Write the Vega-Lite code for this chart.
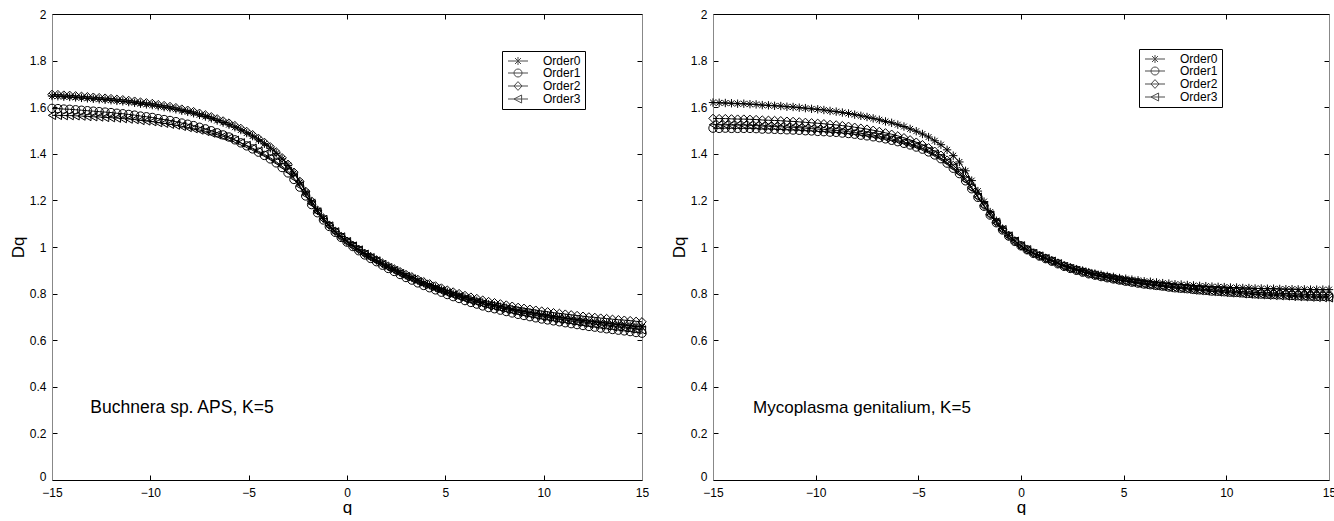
{
"$schema": "https://vega.github.io/schema/vega-lite/v6.json",
"padding": {"left": 9, "top": 8, "right": 0, "bottom": 0},
"config": {"font": "Liberation Sans", "view": {"stroke": null},
 "axis": {"labelFont": "Liberation Sans", "labelFontSize": 12, "labelColor": "black", "titleFont": "Liberation Sans", "titleFontSize": 17, "titleFontWeight": "normal", "titleColor": "black", "tickColor": "black", "grid": false, "domainColor": "black", "labelFlush": false},
 "legend": {"labelFont": "Liberation Sans", "labelFontSize": 12, "labelColor": "black", "strokeColor": "black", "fillColor": "white", "padding": 4, "rowPadding": 0, "symbolStrokeWidth": 1, "symbolStrokeColor": "black", "labelOffset": 19, "symbolSize": 64, "symbolOffset": 6}},
"datasets": {
"A": [
{"s":0,"q":-15,"d":1.648},{"s":0,"q":-14.7,"d":1.647},{"s":0,"q":-14.4,"d":1.645},{"s":0,"q":-14.1,"d":1.644},{"s":0,"q":-13.8,"d":1.642},{"s":0,"q":-13.5,"d":1.640},{"s":0,"q":-13.2,"d":1.638},{"s":0,"q":-12.9,"d":1.636},{"s":0,"q":-12.6,"d":1.634},{"s":0,"q":-12.3,"d":1.632},{"s":0,"q":-12,"d":1.630},{"s":0,"q":-11.7,"d":1.627},{"s":0,"q":-11.4,"d":1.625},{"s":0,"q":-11.1,"d":1.622},{"s":0,"q":-10.8,"d":1.619},{"s":0,"q":-10.5,"d":1.615},{"s":0,"q":-10.2,"d":1.612},{"s":0,"q":-9.9,"d":1.609},{"s":0,"q":-9.6,"d":1.604},{"s":0,"q":-9.3,"d":1.600},{"s":0,"q":-9,"d":1.596},{"s":0,"q":-8.7,"d":1.591},{"s":0,"q":-8.4,"d":1.585},{"s":0,"q":-8.1,"d":1.580},{"s":0,"q":-7.8,"d":1.574},{"s":0,"q":-7.5,"d":1.567},{"s":0,"q":-7.2,"d":1.560},{"s":0,"q":-6.9,"d":1.552},{"s":0,"q":-6.6,"d":1.543},{"s":0,"q":-6.3,"d":1.534},{"s":0,"q":-6,"d":1.525},{"s":0,"q":-5.7,"d":1.514},{"s":0,"q":-5.4,"d":1.502},{"s":0,"q":-5.1,"d":1.489},{"s":0,"q":-4.8,"d":1.476},{"s":0,"q":-4.5,"d":1.460},{"s":0,"q":-4.2,"d":1.443},{"s":0,"q":-3.9,"d":1.424},{"s":0,"q":-3.6,"d":1.402},{"s":0,"q":-3.3,"d":1.378},{"s":0,"q":-3,"d":1.350},{"s":0,"q":-2.7,"d":1.317},{"s":0,"q":-2.4,"d":1.278},{"s":0,"q":-2.1,"d":1.236},{"s":0,"q":-1.8,"d":1.194},{"s":0,"q":-1.5,"d":1.156},{"s":0,"q":-1.2,"d":1.122},{"s":0,"q":-0.9,"d":1.093},{"s":0,"q":-0.6,"d":1.067},{"s":0,"q":-0.3,"d":1.045},{"s":0,"q":0,"d":1.025},{"s":0,"q":0.3,"d":1.007},{"s":0,"q":0.6,"d":0.989},{"s":0,"q":0.9,"d":0.972},{"s":0,"q":1.2,"d":0.957},{"s":0,"q":1.5,"d":0.943},{"s":0,"q":1.8,"d":0.928},{"s":0,"q":2.1,"d":0.915},{"s":0,"q":2.4,"d":0.902},{"s":0,"q":2.7,"d":0.890},{"s":0,"q":3,"d":0.878},{"s":0,"q":3.3,"d":0.867},{"s":0,"q":3.6,"d":0.856},{"s":0,"q":3.9,"d":0.845},{"s":0,"q":4.2,"d":0.836},{"s":0,"q":4.5,"d":0.826},{"s":0,"q":4.8,"d":0.817},{"s":0,"q":5.1,"d":0.807},{"s":0,"q":5.4,"d":0.799},{"s":0,"q":5.7,"d":0.791},{"s":0,"q":6,"d":0.783},{"s":0,"q":6.3,"d":0.776},{"s":0,"q":6.6,"d":0.769},{"s":0,"q":6.9,"d":0.762},{"s":0,"q":7.2,"d":0.755},{"s":0,"q":7.5,"d":0.750},{"s":0,"q":7.8,"d":0.744},{"s":0,"q":8.1,"d":0.739},{"s":0,"q":8.4,"d":0.733},{"s":0,"q":8.7,"d":0.728},{"s":0,"q":9,"d":0.724},{"s":0,"q":9.3,"d":0.719},{"s":0,"q":9.6,"d":0.715},{"s":0,"q":9.9,"d":0.710},{"s":0,"q":10.2,"d":0.707},{"s":0,"q":10.5,"d":0.702},{"s":0,"q":10.8,"d":0.699},{"s":0,"q":11.1,"d":0.695},{"s":0,"q":11.4,"d":0.692},{"s":0,"q":11.7,"d":0.688},{"s":0,"q":12,"d":0.685},{"s":0,"q":12.3,"d":0.682},{"s":0,"q":12.6,"d":0.679},{"s":0,"q":12.9,"d":0.676},{"s":0,"q":13.2,"d":0.673},{"s":0,"q":13.5,"d":0.670},{"s":0,"q":13.8,"d":0.667},{"s":0,"q":14.1,"d":0.665},{"s":0,"q":14.4,"d":0.662},{"s":0,"q":14.7,"d":0.659},{"s":0,"q":15,"d":0.657},
{"s":1,"q":-15,"d":1.595},{"s":1,"q":-14.7,"d":1.594},{"s":1,"q":-14.4,"d":1.592},{"s":1,"q":-14.1,"d":1.591},{"s":1,"q":-13.8,"d":1.589},{"s":1,"q":-13.5,"d":1.587},{"s":1,"q":-13.2,"d":1.585},{"s":1,"q":-12.9,"d":1.583},{"s":1,"q":-12.6,"d":1.581},{"s":1,"q":-12.3,"d":1.579},{"s":1,"q":-12,"d":1.577},{"s":1,"q":-11.7,"d":1.574},{"s":1,"q":-11.4,"d":1.572},{"s":1,"q":-11.1,"d":1.569},{"s":1,"q":-10.8,"d":1.566},{"s":1,"q":-10.5,"d":1.562},{"s":1,"q":-10.2,"d":1.559},{"s":1,"q":-9.9,"d":1.556},{"s":1,"q":-9.6,"d":1.551},{"s":1,"q":-9.3,"d":1.547},{"s":1,"q":-9,"d":1.543},{"s":1,"q":-8.7,"d":1.538},{"s":1,"q":-8.4,"d":1.532},{"s":1,"q":-8.1,"d":1.527},{"s":1,"q":-7.8,"d":1.521},{"s":1,"q":-7.5,"d":1.514},{"s":1,"q":-7.2,"d":1.507},{"s":1,"q":-6.9,"d":1.499},{"s":1,"q":-6.6,"d":1.490},{"s":1,"q":-6.3,"d":1.481},{"s":1,"q":-6,"d":1.472},{"s":1,"q":-5.7,"d":1.460},{"s":1,"q":-5.4,"d":1.447},{"s":1,"q":-5.1,"d":1.434},{"s":1,"q":-4.8,"d":1.421},{"s":1,"q":-4.5,"d":1.407},{"s":1,"q":-4.2,"d":1.393},{"s":1,"q":-3.9,"d":1.378},{"s":1,"q":-3.6,"d":1.361},{"s":1,"q":-3.3,"d":1.341},{"s":1,"q":-3,"d":1.318},{"s":1,"q":-2.7,"d":1.290},{"s":1,"q":-2.4,"d":1.257},{"s":1,"q":-2.1,"d":1.219},{"s":1,"q":-1.8,"d":1.182},{"s":1,"q":-1.5,"d":1.147},{"s":1,"q":-1.2,"d":1.116},{"s":1,"q":-0.9,"d":1.088},{"s":1,"q":-0.6,"d":1.063},{"s":1,"q":-0.3,"d":1.041},{"s":1,"q":0,"d":1.021},{"s":1,"q":0.3,"d":1.002},{"s":1,"q":0.6,"d":0.984},{"s":1,"q":0.9,"d":0.966},{"s":1,"q":1.2,"d":0.951},{"s":1,"q":1.5,"d":0.937},{"s":1,"q":1.8,"d":0.922},{"s":1,"q":2.1,"d":0.908},{"s":1,"q":2.4,"d":0.895},{"s":1,"q":2.7,"d":0.882},{"s":1,"q":3,"d":0.869},{"s":1,"q":3.3,"d":0.858},{"s":1,"q":3.6,"d":0.846},{"s":1,"q":3.9,"d":0.835},{"s":1,"q":4.2,"d":0.825},{"s":1,"q":4.5,"d":0.816},{"s":1,"q":4.8,"d":0.806},{"s":1,"q":5.1,"d":0.796},{"s":1,"q":5.4,"d":0.787},{"s":1,"q":5.7,"d":0.779},{"s":1,"q":6,"d":0.770},{"s":1,"q":6.3,"d":0.762},{"s":1,"q":6.6,"d":0.755},{"s":1,"q":6.9,"d":0.747},{"s":1,"q":7.2,"d":0.740},{"s":1,"q":7.5,"d":0.735},{"s":1,"q":7.8,"d":0.729},{"s":1,"q":8.1,"d":0.723},{"s":1,"q":8.4,"d":0.717},{"s":1,"q":8.7,"d":0.711},{"s":1,"q":9,"d":0.706},{"s":1,"q":9.3,"d":0.701},{"s":1,"q":9.6,"d":0.696},{"s":1,"q":9.9,"d":0.691},{"s":1,"q":10.2,"d":0.687},{"s":1,"q":10.5,"d":0.683},{"s":1,"q":10.8,"d":0.679},{"s":1,"q":11.1,"d":0.675},{"s":1,"q":11.4,"d":0.671},{"s":1,"q":11.7,"d":0.667},{"s":1,"q":12,"d":0.663},{"s":1,"q":12.3,"d":0.659},{"s":1,"q":12.6,"d":0.656},{"s":1,"q":12.9,"d":0.652},{"s":1,"q":13.2,"d":0.649},{"s":1,"q":13.5,"d":0.646},{"s":1,"q":13.8,"d":0.643},{"s":1,"q":14.1,"d":0.640},{"s":1,"q":14.4,"d":0.637},{"s":1,"q":14.7,"d":0.633},{"s":1,"q":15,"d":0.630},
{"s":2,"q":-15,"d":1.655},{"s":2,"q":-14.7,"d":1.654},{"s":2,"q":-14.4,"d":1.652},{"s":2,"q":-14.1,"d":1.651},{"s":2,"q":-13.8,"d":1.649},{"s":2,"q":-13.5,"d":1.647},{"s":2,"q":-13.2,"d":1.645},{"s":2,"q":-12.9,"d":1.643},{"s":2,"q":-12.6,"d":1.641},{"s":2,"q":-12.3,"d":1.639},{"s":2,"q":-12,"d":1.637},{"s":2,"q":-11.7,"d":1.634},{"s":2,"q":-11.4,"d":1.632},{"s":2,"q":-11.1,"d":1.629},{"s":2,"q":-10.8,"d":1.626},{"s":2,"q":-10.5,"d":1.622},{"s":2,"q":-10.2,"d":1.619},{"s":2,"q":-9.9,"d":1.616},{"s":2,"q":-9.6,"d":1.611},{"s":2,"q":-9.3,"d":1.607},{"s":2,"q":-9,"d":1.603},{"s":2,"q":-8.7,"d":1.598},{"s":2,"q":-8.4,"d":1.592},{"s":2,"q":-8.1,"d":1.587},{"s":2,"q":-7.8,"d":1.581},{"s":2,"q":-7.5,"d":1.574},{"s":2,"q":-7.2,"d":1.567},{"s":2,"q":-6.9,"d":1.559},{"s":2,"q":-6.6,"d":1.550},{"s":2,"q":-6.3,"d":1.541},{"s":2,"q":-6,"d":1.532},{"s":2,"q":-5.7,"d":1.521},{"s":2,"q":-5.4,"d":1.509},{"s":2,"q":-5.1,"d":1.496},{"s":2,"q":-4.8,"d":1.482},{"s":2,"q":-4.5,"d":1.466},{"s":2,"q":-4.2,"d":1.449},{"s":2,"q":-3.9,"d":1.430},{"s":2,"q":-3.6,"d":1.408},{"s":2,"q":-3.3,"d":1.383},{"s":2,"q":-3,"d":1.355},{"s":2,"q":-2.7,"d":1.321},{"s":2,"q":-2.4,"d":1.282},{"s":2,"q":-2.1,"d":1.239},{"s":2,"q":-1.8,"d":1.197},{"s":2,"q":-1.5,"d":1.158},{"s":2,"q":-1.2,"d":1.124},{"s":2,"q":-0.9,"d":1.094},{"s":2,"q":-0.6,"d":1.068},{"s":2,"q":-0.3,"d":1.045},{"s":2,"q":0,"d":1.025},{"s":2,"q":0.3,"d":1.007},{"s":2,"q":0.6,"d":0.990},{"s":2,"q":0.9,"d":0.973},{"s":2,"q":1.2,"d":0.959},{"s":2,"q":1.5,"d":0.945},{"s":2,"q":1.8,"d":0.931},{"s":2,"q":2.1,"d":0.918},{"s":2,"q":2.4,"d":0.906},{"s":2,"q":2.7,"d":0.894},{"s":2,"q":3,"d":0.882},{"s":2,"q":3.3,"d":0.872},{"s":2,"q":3.6,"d":0.861},{"s":2,"q":3.9,"d":0.851},{"s":2,"q":4.2,"d":0.842},{"s":2,"q":4.5,"d":0.833},{"s":2,"q":4.8,"d":0.824},{"s":2,"q":5.1,"d":0.815},{"s":2,"q":5.4,"d":0.807},{"s":2,"q":5.7,"d":0.800},{"s":2,"q":6,"d":0.792},{"s":2,"q":6.3,"d":0.785},{"s":2,"q":6.6,"d":0.779},{"s":2,"q":6.9,"d":0.772},{"s":2,"q":7.2,"d":0.766},{"s":2,"q":7.5,"d":0.761},{"s":2,"q":7.8,"d":0.756},{"s":2,"q":8.1,"d":0.751},{"s":2,"q":8.4,"d":0.746},{"s":2,"q":8.7,"d":0.741},{"s":2,"q":9,"d":0.737},{"s":2,"q":9.3,"d":0.733},{"s":2,"q":9.6,"d":0.729},{"s":2,"q":9.9,"d":0.725},{"s":2,"q":10.2,"d":0.722},{"s":2,"q":10.5,"d":0.718},{"s":2,"q":10.8,"d":0.715},{"s":2,"q":11.1,"d":0.712},{"s":2,"q":11.4,"d":0.709},{"s":2,"q":11.7,"d":0.706},{"s":2,"q":12,"d":0.703},{"s":2,"q":12.3,"d":0.700},{"s":2,"q":12.6,"d":0.698},{"s":2,"q":12.9,"d":0.695},{"s":2,"q":13.2,"d":0.693},{"s":2,"q":13.5,"d":0.690},{"s":2,"q":13.8,"d":0.688},{"s":2,"q":14.1,"d":0.686},{"s":2,"q":14.4,"d":0.684},{"s":2,"q":14.7,"d":0.681},{"s":2,"q":15,"d":0.679},
{"s":3,"q":-15,"d":1.565},{"s":3,"q":-14.7,"d":1.565},{"s":3,"q":-14.4,"d":1.564},{"s":3,"q":-14.1,"d":1.564},{"s":3,"q":-13.8,"d":1.563},{"s":3,"q":-13.5,"d":1.562},{"s":3,"q":-13.2,"d":1.560},{"s":3,"q":-12.9,"d":1.559},{"s":3,"q":-12.6,"d":1.558},{"s":3,"q":-12.3,"d":1.556},{"s":3,"q":-12,"d":1.555},{"s":3,"q":-11.7,"d":1.553},{"s":3,"q":-11.4,"d":1.551},{"s":3,"q":-11.1,"d":1.549},{"s":3,"q":-10.8,"d":1.547},{"s":3,"q":-10.5,"d":1.543},{"s":3,"q":-10.2,"d":1.541},{"s":3,"q":-9.9,"d":1.538},{"s":3,"q":-9.6,"d":1.534},{"s":3,"q":-9.3,"d":1.531},{"s":3,"q":-9,"d":1.527},{"s":3,"q":-8.7,"d":1.523},{"s":3,"q":-8.4,"d":1.518},{"s":3,"q":-8.1,"d":1.513},{"s":3,"q":-7.8,"d":1.508},{"s":3,"q":-7.5,"d":1.502},{"s":3,"q":-7.2,"d":1.496},{"s":3,"q":-6.9,"d":1.489},{"s":3,"q":-6.6,"d":1.482},{"s":3,"q":-6.3,"d":1.475},{"s":3,"q":-6,"d":1.467},{"s":3,"q":-5.7,"d":1.458},{"s":3,"q":-5.4,"d":1.447},{"s":3,"q":-5.1,"d":1.436},{"s":3,"q":-4.8,"d":1.424},{"s":3,"q":-4.5,"d":1.411},{"s":3,"q":-4.2,"d":1.398},{"s":3,"q":-3.9,"d":1.383},{"s":3,"q":-3.6,"d":1.366},{"s":3,"q":-3.3,"d":1.347},{"s":3,"q":-3,"d":1.325},{"s":3,"q":-2.7,"d":1.296},{"s":3,"q":-2.4,"d":1.262},{"s":3,"q":-2.1,"d":1.224},{"s":3,"q":-1.8,"d":1.186},{"s":3,"q":-1.5,"d":1.150},{"s":3,"q":-1.2,"d":1.118},{"s":3,"q":-0.9,"d":1.090},{"s":3,"q":-0.6,"d":1.065},{"s":3,"q":-0.3,"d":1.043},{"s":3,"q":0,"d":1.023},{"s":3,"q":0.3,"d":1.004},{"s":3,"q":0.6,"d":0.987},{"s":3,"q":0.9,"d":0.969},{"s":3,"q":1.2,"d":0.954},{"s":3,"q":1.5,"d":0.940},{"s":3,"q":1.8,"d":0.925},{"s":3,"q":2.1,"d":0.911},{"s":3,"q":2.4,"d":0.899},{"s":3,"q":2.7,"d":0.886},{"s":3,"q":3,"d":0.873},{"s":3,"q":3.3,"d":0.863},{"s":3,"q":3.6,"d":0.851},{"s":3,"q":3.9,"d":0.840},{"s":3,"q":4.2,"d":0.831},{"s":3,"q":4.5,"d":0.821},{"s":3,"q":4.8,"d":0.811},{"s":3,"q":5.1,"d":0.802},{"s":3,"q":5.4,"d":0.793},{"s":3,"q":5.7,"d":0.786},{"s":3,"q":6,"d":0.777},{"s":3,"q":6.3,"d":0.769},{"s":3,"q":6.6,"d":0.762},{"s":3,"q":6.9,"d":0.755},{"s":3,"q":7.2,"d":0.748},{"s":3,"q":7.5,"d":0.743},{"s":3,"q":7.8,"d":0.737},{"s":3,"q":8.1,"d":0.731},{"s":3,"q":8.4,"d":0.726},{"s":3,"q":8.7,"d":0.720},{"s":3,"q":9,"d":0.715},{"s":3,"q":9.3,"d":0.711},{"s":3,"q":9.6,"d":0.706},{"s":3,"q":9.9,"d":0.701},{"s":3,"q":10.2,"d":0.698},{"s":3,"q":10.5,"d":0.693},{"s":3,"q":10.8,"d":0.689},{"s":3,"q":11.1,"d":0.686},{"s":3,"q":11.4,"d":0.682},{"s":3,"q":11.7,"d":0.678},{"s":3,"q":12,"d":0.675},{"s":3,"q":12.3,"d":0.671},{"s":3,"q":12.6,"d":0.668},{"s":3,"q":12.9,"d":0.665},{"s":3,"q":13.2,"d":0.662},{"s":3,"q":13.5,"d":0.658},{"s":3,"q":13.8,"d":0.656},{"s":3,"q":14.1,"d":0.653},{"s":3,"q":14.4,"d":0.650},{"s":3,"q":14.7,"d":0.647},{"s":3,"q":15,"d":0.644}
],
"B": [
{"s":0,"q":-15,"d":1.620},{"s":0,"q":-14.7,"d":1.619},{"s":0,"q":-14.4,"d":1.618},{"s":0,"q":-14.1,"d":1.617},{"s":0,"q":-13.8,"d":1.615},{"s":0,"q":-13.5,"d":1.615},{"s":0,"q":-13.2,"d":1.613},{"s":0,"q":-12.9,"d":1.612},{"s":0,"q":-12.6,"d":1.609},{"s":0,"q":-12.3,"d":1.608},{"s":0,"q":-12,"d":1.606},{"s":0,"q":-11.7,"d":1.605},{"s":0,"q":-11.4,"d":1.602},{"s":0,"q":-11.1,"d":1.601},{"s":0,"q":-10.8,"d":1.598},{"s":0,"q":-10.5,"d":1.596},{"s":0,"q":-10.2,"d":1.593},{"s":0,"q":-9.9,"d":1.591},{"s":0,"q":-9.6,"d":1.588},{"s":0,"q":-9.3,"d":1.584},{"s":0,"q":-9,"d":1.581},{"s":0,"q":-8.7,"d":1.577},{"s":0,"q":-8.4,"d":1.573},{"s":0,"q":-8.1,"d":1.568},{"s":0,"q":-7.8,"d":1.563},{"s":0,"q":-7.5,"d":1.558},{"s":0,"q":-7.2,"d":1.552},{"s":0,"q":-6.9,"d":1.546},{"s":0,"q":-6.6,"d":1.539},{"s":0,"q":-6.3,"d":1.533},{"s":0,"q":-6,"d":1.525},{"s":0,"q":-5.7,"d":1.517},{"s":0,"q":-5.4,"d":1.507},{"s":0,"q":-5.1,"d":1.497},{"s":0,"q":-4.8,"d":1.485},{"s":0,"q":-4.5,"d":1.472},{"s":0,"q":-4.2,"d":1.456},{"s":0,"q":-3.9,"d":1.439},{"s":0,"q":-3.6,"d":1.417},{"s":0,"q":-3.3,"d":1.392},{"s":0,"q":-3,"d":1.365},{"s":0,"q":-2.7,"d":1.327},{"s":0,"q":-2.4,"d":1.285},{"s":0,"q":-2.1,"d":1.240},{"s":0,"q":-1.8,"d":1.195},{"s":0,"q":-1.5,"d":1.150},{"s":0,"q":-1.2,"d":1.113},{"s":0,"q":-0.9,"d":1.079},{"s":0,"q":-0.6,"d":1.050},{"s":0,"q":-0.3,"d":1.026},{"s":0,"q":0,"d":1.005},{"s":0,"q":0.3,"d":0.988},{"s":0,"q":0.6,"d":0.974},{"s":0,"q":0.9,"d":0.963},{"s":0,"q":1.2,"d":0.953},{"s":0,"q":1.5,"d":0.942},{"s":0,"q":1.8,"d":0.932},{"s":0,"q":2.1,"d":0.921},{"s":0,"q":2.4,"d":0.913},{"s":0,"q":2.7,"d":0.905},{"s":0,"q":3,"d":0.899},{"s":0,"q":3.3,"d":0.892},{"s":0,"q":3.6,"d":0.886},{"s":0,"q":3.9,"d":0.881},{"s":0,"q":4.2,"d":0.876},{"s":0,"q":4.5,"d":0.872},{"s":0,"q":4.8,"d":0.867},{"s":0,"q":5.1,"d":0.864},{"s":0,"q":5.4,"d":0.860},{"s":0,"q":5.7,"d":0.857},{"s":0,"q":6,"d":0.853},{"s":0,"q":6.3,"d":0.851},{"s":0,"q":6.6,"d":0.848},{"s":0,"q":6.9,"d":0.845},{"s":0,"q":7.2,"d":0.843},{"s":0,"q":7.5,"d":0.840},{"s":0,"q":7.8,"d":0.839},{"s":0,"q":8.1,"d":0.837},{"s":0,"q":8.4,"d":0.835},{"s":0,"q":8.7,"d":0.833},{"s":0,"q":9,"d":0.832},{"s":0,"q":9.3,"d":0.830},{"s":0,"q":9.6,"d":0.829},{"s":0,"q":9.9,"d":0.828},{"s":0,"q":10.2,"d":0.826},{"s":0,"q":10.5,"d":0.826},{"s":0,"q":10.8,"d":0.824},{"s":0,"q":11.1,"d":0.824},{"s":0,"q":11.4,"d":0.822},{"s":0,"q":11.7,"d":0.822},{"s":0,"q":12,"d":0.821},{"s":0,"q":12.3,"d":0.821},{"s":0,"q":12.6,"d":0.820},{"s":0,"q":12.9,"d":0.819},{"s":0,"q":13.2,"d":0.819},{"s":0,"q":13.5,"d":0.818},{"s":0,"q":13.8,"d":0.818},{"s":0,"q":14.1,"d":0.817},{"s":0,"q":14.4,"d":0.817},{"s":0,"q":14.7,"d":0.817},{"s":0,"q":15,"d":0.817},
{"s":1,"q":-15,"d":1.510},{"s":1,"q":-14.7,"d":1.509},{"s":1,"q":-14.4,"d":1.510},{"s":1,"q":-14.1,"d":1.509},{"s":1,"q":-13.8,"d":1.509},{"s":1,"q":-13.5,"d":1.509},{"s":1,"q":-13.2,"d":1.509},{"s":1,"q":-12.9,"d":1.508},{"s":1,"q":-12.6,"d":1.506},{"s":1,"q":-12.3,"d":1.506},{"s":1,"q":-12,"d":1.505},{"s":1,"q":-11.7,"d":1.504},{"s":1,"q":-11.4,"d":1.503},{"s":1,"q":-11.1,"d":1.502},{"s":1,"q":-10.8,"d":1.501},{"s":1,"q":-10.5,"d":1.499},{"s":1,"q":-10.2,"d":1.498},{"s":1,"q":-9.9,"d":1.496},{"s":1,"q":-9.6,"d":1.495},{"s":1,"q":-9.3,"d":1.493},{"s":1,"q":-9,"d":1.492},{"s":1,"q":-8.7,"d":1.489},{"s":1,"q":-8.4,"d":1.487},{"s":1,"q":-8.1,"d":1.484},{"s":1,"q":-7.8,"d":1.480},{"s":1,"q":-7.5,"d":1.477},{"s":1,"q":-7.2,"d":1.473},{"s":1,"q":-6.9,"d":1.469},{"s":1,"q":-6.6,"d":1.464},{"s":1,"q":-6.3,"d":1.458},{"s":1,"q":-6,"d":1.452},{"s":1,"q":-5.7,"d":1.445},{"s":1,"q":-5.4,"d":1.438},{"s":1,"q":-5.1,"d":1.429},{"s":1,"q":-4.8,"d":1.420},{"s":1,"q":-4.5,"d":1.408},{"s":1,"q":-4.2,"d":1.395},{"s":1,"q":-3.9,"d":1.379},{"s":1,"q":-3.6,"d":1.360},{"s":1,"q":-3.3,"d":1.338},{"s":1,"q":-3,"d":1.315},{"s":1,"q":-2.7,"d":1.284},{"s":1,"q":-2.4,"d":1.250},{"s":1,"q":-2.1,"d":1.213},{"s":1,"q":-1.8,"d":1.175},{"s":1,"q":-1.5,"d":1.137},{"s":1,"q":-1.2,"d":1.104},{"s":1,"q":-0.9,"d":1.073},{"s":1,"q":-0.6,"d":1.047},{"s":1,"q":-0.3,"d":1.024},{"s":1,"q":0,"d":1.005},{"s":1,"q":0.3,"d":0.988},{"s":1,"q":0.6,"d":0.973},{"s":1,"q":0.9,"d":0.961},{"s":1,"q":1.2,"d":0.950},{"s":1,"q":1.5,"d":0.939},{"s":1,"q":1.8,"d":0.928},{"s":1,"q":2.1,"d":0.917},{"s":1,"q":2.4,"d":0.908},{"s":1,"q":2.7,"d":0.900},{"s":1,"q":3,"d":0.892},{"s":1,"q":3.3,"d":0.885},{"s":1,"q":3.6,"d":0.879},{"s":1,"q":3.9,"d":0.873},{"s":1,"q":4.2,"d":0.868},{"s":1,"q":4.5,"d":0.863},{"s":1,"q":4.8,"d":0.858},{"s":1,"q":5.1,"d":0.853},{"s":1,"q":5.4,"d":0.849},{"s":1,"q":5.7,"d":0.845},{"s":1,"q":6,"d":0.841},{"s":1,"q":6.3,"d":0.838},{"s":1,"q":6.6,"d":0.835},{"s":1,"q":6.9,"d":0.832},{"s":1,"q":7.2,"d":0.828},{"s":1,"q":7.5,"d":0.825},{"s":1,"q":7.8,"d":0.823},{"s":1,"q":8.1,"d":0.821},{"s":1,"q":8.4,"d":0.818},{"s":1,"q":8.7,"d":0.816},{"s":1,"q":9,"d":0.814},{"s":1,"q":9.3,"d":0.811},{"s":1,"q":9.6,"d":0.810},{"s":1,"q":9.9,"d":0.808},{"s":1,"q":10.2,"d":0.806},{"s":1,"q":10.5,"d":0.805},{"s":1,"q":10.8,"d":0.803},{"s":1,"q":11.1,"d":0.801},{"s":1,"q":11.4,"d":0.799},{"s":1,"q":11.7,"d":0.798},{"s":1,"q":12,"d":0.797},{"s":1,"q":12.3,"d":0.796},{"s":1,"q":12.6,"d":0.795},{"s":1,"q":12.9,"d":0.794},{"s":1,"q":13.2,"d":0.792},{"s":1,"q":13.5,"d":0.791},{"s":1,"q":13.8,"d":0.790},{"s":1,"q":14.1,"d":0.789},{"s":1,"q":14.4,"d":0.788},{"s":1,"q":14.7,"d":0.788},{"s":1,"q":15,"d":0.787},
{"s":2,"q":-15,"d":1.552},{"s":2,"q":-14.7,"d":1.551},{"s":2,"q":-14.4,"d":1.551},{"s":2,"q":-14.1,"d":1.550},{"s":2,"q":-13.8,"d":1.549},{"s":2,"q":-13.5,"d":1.549},{"s":2,"q":-13.2,"d":1.548},{"s":2,"q":-12.9,"d":1.547},{"s":2,"q":-12.6,"d":1.545},{"s":2,"q":-12.3,"d":1.544},{"s":2,"q":-12,"d":1.543},{"s":2,"q":-11.7,"d":1.542},{"s":2,"q":-11.4,"d":1.540},{"s":2,"q":-11.1,"d":1.539},{"s":2,"q":-10.8,"d":1.537},{"s":2,"q":-10.5,"d":1.535},{"s":2,"q":-10.2,"d":1.533},{"s":2,"q":-9.9,"d":1.531},{"s":2,"q":-9.6,"d":1.529},{"s":2,"q":-9.3,"d":1.526},{"s":2,"q":-9,"d":1.524},{"s":2,"q":-8.7,"d":1.521},{"s":2,"q":-8.4,"d":1.518},{"s":2,"q":-8.1,"d":1.514},{"s":2,"q":-7.8,"d":1.510},{"s":2,"q":-7.5,"d":1.506},{"s":2,"q":-7.2,"d":1.501},{"s":2,"q":-6.9,"d":1.496},{"s":2,"q":-6.6,"d":1.490},{"s":2,"q":-6.3,"d":1.484},{"s":2,"q":-6,"d":1.477},{"s":2,"q":-5.7,"d":1.469},{"s":2,"q":-5.4,"d":1.460},{"s":2,"q":-5.1,"d":1.450},{"s":2,"q":-4.8,"d":1.439},{"s":2,"q":-4.5,"d":1.426},{"s":2,"q":-4.2,"d":1.411},{"s":2,"q":-3.9,"d":1.394},{"s":2,"q":-3.6,"d":1.373},{"s":2,"q":-3.3,"d":1.350},{"s":2,"q":-3,"d":1.325},{"s":2,"q":-2.7,"d":1.293},{"s":2,"q":-2.4,"d":1.257},{"s":2,"q":-2.1,"d":1.218},{"s":2,"q":-1.8,"d":1.179},{"s":2,"q":-1.5,"d":1.140},{"s":2,"q":-1.2,"d":1.106},{"s":2,"q":-0.9,"d":1.075},{"s":2,"q":-0.6,"d":1.048},{"s":2,"q":-0.3,"d":1.025},{"s":2,"q":0,"d":1.005},{"s":2,"q":0.3,"d":0.988},{"s":2,"q":0.6,"d":0.973},{"s":2,"q":0.9,"d":0.962},{"s":2,"q":1.2,"d":0.951},{"s":2,"q":1.5,"d":0.940},{"s":2,"q":1.8,"d":0.929},{"s":2,"q":2.1,"d":0.918},{"s":2,"q":2.4,"d":0.909},{"s":2,"q":2.7,"d":0.901},{"s":2,"q":3,"d":0.894},{"s":2,"q":3.3,"d":0.887},{"s":2,"q":3.6,"d":0.881},{"s":2,"q":3.9,"d":0.875},{"s":2,"q":4.2,"d":0.870},{"s":2,"q":4.5,"d":0.865},{"s":2,"q":4.8,"d":0.860},{"s":2,"q":5.1,"d":0.856},{"s":2,"q":5.4,"d":0.852},{"s":2,"q":5.7,"d":0.848},{"s":2,"q":6,"d":0.844},{"s":2,"q":6.3,"d":0.841},{"s":2,"q":6.6,"d":0.838},{"s":2,"q":6.9,"d":0.835},{"s":2,"q":7.2,"d":0.832},{"s":2,"q":7.5,"d":0.829},{"s":2,"q":7.8,"d":0.827},{"s":2,"q":8.1,"d":0.825},{"s":2,"q":8.4,"d":0.822},{"s":2,"q":8.7,"d":0.820},{"s":2,"q":9,"d":0.818},{"s":2,"q":9.3,"d":0.816},{"s":2,"q":9.6,"d":0.815},{"s":2,"q":9.9,"d":0.813},{"s":2,"q":10.2,"d":0.811},{"s":2,"q":10.5,"d":0.810},{"s":2,"q":10.8,"d":0.808},{"s":2,"q":11.1,"d":0.807},{"s":2,"q":11.4,"d":0.805},{"s":2,"q":11.7,"d":0.804},{"s":2,"q":12,"d":0.803},{"s":2,"q":12.3,"d":0.802},{"s":2,"q":12.6,"d":0.801},{"s":2,"q":12.9,"d":0.800},{"s":2,"q":13.2,"d":0.799},{"s":2,"q":13.5,"d":0.798},{"s":2,"q":13.8,"d":0.797},{"s":2,"q":14.1,"d":0.796},{"s":2,"q":14.4,"d":0.795},{"s":2,"q":14.7,"d":0.795},{"s":2,"q":15,"d":0.794},
{"s":3,"q":-15,"d":1.525},{"s":3,"q":-14.7,"d":1.524},{"s":3,"q":-14.4,"d":1.524},{"s":3,"q":-14.1,"d":1.523},{"s":3,"q":-13.8,"d":1.523},{"s":3,"q":-13.5,"d":1.523},{"s":3,"q":-13.2,"d":1.522},{"s":3,"q":-12.9,"d":1.521},{"s":3,"q":-12.6,"d":1.519},{"s":3,"q":-12.3,"d":1.518},{"s":3,"q":-12,"d":1.517},{"s":3,"q":-11.7,"d":1.516},{"s":3,"q":-11.4,"d":1.514},{"s":3,"q":-11.1,"d":1.514},{"s":3,"q":-10.8,"d":1.512},{"s":3,"q":-10.5,"d":1.510},{"s":3,"q":-10.2,"d":1.508},{"s":3,"q":-9.9,"d":1.506},{"s":3,"q":-9.6,"d":1.505},{"s":3,"q":-9.3,"d":1.502},{"s":3,"q":-9,"d":1.500},{"s":3,"q":-8.7,"d":1.498},{"s":3,"q":-8.4,"d":1.495},{"s":3,"q":-8.1,"d":1.491},{"s":3,"q":-7.8,"d":1.488},{"s":3,"q":-7.5,"d":1.484},{"s":3,"q":-7.2,"d":1.480},{"s":3,"q":-6.9,"d":1.475},{"s":3,"q":-6.6,"d":1.469},{"s":3,"q":-6.3,"d":1.464},{"s":3,"q":-6,"d":1.457},{"s":3,"q":-5.7,"d":1.450},{"s":3,"q":-5.4,"d":1.442},{"s":3,"q":-5.1,"d":1.434},{"s":3,"q":-4.8,"d":1.424},{"s":3,"q":-4.5,"d":1.412},{"s":3,"q":-4.2,"d":1.398},{"s":3,"q":-3.9,"d":1.382},{"s":3,"q":-3.6,"d":1.363},{"s":3,"q":-3.3,"d":1.341},{"s":3,"q":-3,"d":1.317},{"s":3,"q":-2.7,"d":1.286},{"s":3,"q":-2.4,"d":1.251},{"s":3,"q":-2.1,"d":1.214},{"s":3,"q":-1.8,"d":1.176},{"s":3,"q":-1.5,"d":1.137},{"s":3,"q":-1.2,"d":1.104},{"s":3,"q":-0.9,"d":1.074},{"s":3,"q":-0.6,"d":1.047},{"s":3,"q":-0.3,"d":1.025},{"s":3,"q":0,"d":1.005},{"s":3,"q":0.3,"d":0.988},{"s":3,"q":0.6,"d":0.972},{"s":3,"q":0.9,"d":0.961},{"s":3,"q":1.2,"d":0.950},{"s":3,"q":1.5,"d":0.939},{"s":3,"q":1.8,"d":0.928},{"s":3,"q":2.1,"d":0.916},{"s":3,"q":2.4,"d":0.907},{"s":3,"q":2.7,"d":0.899},{"s":3,"q":3,"d":0.892},{"s":3,"q":3.3,"d":0.884},{"s":3,"q":3.6,"d":0.878},{"s":3,"q":3.9,"d":0.872},{"s":3,"q":4.2,"d":0.867},{"s":3,"q":4.5,"d":0.861},{"s":3,"q":4.8,"d":0.856},{"s":3,"q":5.1,"d":0.852},{"s":3,"q":5.4,"d":0.848},{"s":3,"q":5.7,"d":0.843},{"s":3,"q":6,"d":0.839},{"s":3,"q":6.3,"d":0.836},{"s":3,"q":6.6,"d":0.833},{"s":3,"q":6.9,"d":0.830},{"s":3,"q":7.2,"d":0.826},{"s":3,"q":7.5,"d":0.823},{"s":3,"q":7.8,"d":0.821},{"s":3,"q":8.1,"d":0.819},{"s":3,"q":8.4,"d":0.815},{"s":3,"q":8.7,"d":0.813},{"s":3,"q":9,"d":0.811},{"s":3,"q":9.3,"d":0.809},{"s":3,"q":9.6,"d":0.807},{"s":3,"q":9.9,"d":0.805},{"s":3,"q":10.2,"d":0.803},{"s":3,"q":10.5,"d":0.802},{"s":3,"q":10.8,"d":0.799},{"s":3,"q":11.1,"d":0.798},{"s":3,"q":11.4,"d":0.796},{"s":3,"q":11.7,"d":0.795},{"s":3,"q":12,"d":0.793},{"s":3,"q":12.3,"d":0.792},{"s":3,"q":12.6,"d":0.791},{"s":3,"q":12.9,"d":0.790},{"s":3,"q":13.2,"d":0.788},{"s":3,"q":13.5,"d":0.787},{"s":3,"q":13.8,"d":0.786},{"s":3,"q":14.1,"d":0.785},{"s":3,"q":14.4,"d":0.784},{"s":3,"q":14.7,"d":0.783},{"s":3,"q":15,"d":0.782}
]
},
"spacing": 21,
"resolve": {"scale": {"shape": "independent"}, "legend": {"shape": "independent"}},
"hconcat": [
{
 "width": 590, "height": 466,
 "data": {"name": "A"},
 "resolve": {"scale": {"shape": "independent"}, "legend": {"shape": "independent"}},
 "layer": [
  {"mark": {"type": "line", "color": "black", "strokeWidth": 1},
   "encoding": {
    "x": {"field": "q", "type": "quantitative", "scale": {"domain": [-15, 15], "nice": false}, "axis": {"orient": "bottom", "values": [-15,-10,-5,0,5,10,15], "tickSize": -5, "labelPadding": 12, "title": "q", "titlePadding": 1, "domainColor": "black"}},
    "y": {"field": "d", "type": "quantitative", "scale": {"domain": [0, 2], "nice": false}, "axis": {"orient": "left", "values": [0,0.2,0.4,0.6,0.8,1,1.2,1.4,1.6,1.8,2], "format": "~g", "tickSize": -5, "labelPadding": 11, "labelBaseline": {"condition": {"test": "datum.value == 0", "value": "alphabetic"}, "value": "middle"}, "title": "Dq", "titlePadding": 2, "domainColor": "#888"}},
    "detail": {"field": "s", "type": "nominal"}}},
  {"mark": {"type": "point", "filled": false, "color": "black", "strokeWidth": 1, "size": 70, "opacity": 1},
   "encoding": {
    "x": {"field": "q", "type": "quantitative", "axis": {"orient": "top", "values": [-15,-10,-5,0,5,10,15], "tickSize": -5, "labels": false, "title": null, "domainColor": "black"}},
    "y": {"field": "d", "type": "quantitative", "axis": {"orient": "right", "values": [0,0.2,0.4,0.6,0.8,1,1.2,1.4,1.6,1.8,2], "tickSize": -5, "labels": false, "title": null, "domainColor": "#888"}},
    "shape": {"field": "s", "type": "nominal", "scale": {"domain": [0,1,2,3], "range": ["M0,-1L0,1M-1,0L1,0M-0.7,-0.7L0.7,0.7M-0.7,0.7L0.7,-0.7", "circle", "diamond", "triangle-left"]}, "legend": null}}},
  {"transform": [{"filter": "datum.q > 100"}],
   "mark": {"type": "point", "filled": false, "color": "black", "strokeWidth": 1},
   "encoding": {
    "shape": {"field": "s", "type": "nominal", "scale": {"domain": [0,1,2,3], "range": ["M-2.5,0L2.5,0M0,-1L0,1M-0.75,-0.75L0.75,0.75M-0.75,0.75L0.75,-0.75", "M-2.5,0L2.5,0M-1,0A1,1,0,1,0,1,0A1,1,0,1,0,-1,0", "M-2.5,0L2.5,0M-1,0L0,-1.1L1,0L0,1.1Z", "M-2.5,0L2.5,0M-1,0L0.9,-1L0.9,1Z"]},
     "legend": {"title": null, "orient": "none", "legendX": 450, "legendY": 37, "labelExpr": "'Order' + datum.label"}}}},
  {"data": {"values": [{"q": -13.05, "d": 0.31, "t": "Buchnera sp. APS, K=5"}]},
   "mark": {"type": "text", "align": "left", "baseline": "middle", "fontSize": 17.5, "color": "black"},
   "encoding": {"x": {"field": "q", "type": "quantitative", "axis": null}, "y": {"field": "d", "type": "quantitative", "axis": null}, "text": {"field": "t"}}}
 ]
},
{
 "width": 616, "height": 466,
 "data": {"name": "B"},
 "resolve": {"scale": {"shape": "independent"}, "legend": {"shape": "independent"}},
 "layer": [
  {"mark": {"type": "line", "color": "black", "strokeWidth": 1},
   "encoding": {
    "x": {"field": "q", "type": "quantitative", "scale": {"domain": [-15, 15], "nice": false}, "axis": {"orient": "bottom", "values": [-15,-10,-5,0,5,10,15], "tickSize": -5, "labelPadding": 12, "title": "q", "titlePadding": 1, "domainColor": "black"}},
    "y": {"field": "d", "type": "quantitative", "scale": {"domain": [0, 2], "nice": false}, "axis": {"orient": "left", "values": [0,0.2,0.4,0.6,0.8,1,1.2,1.4,1.6,1.8,2], "format": "~g", "tickSize": -5, "labelPadding": 11, "labelBaseline": {"condition": {"test": "datum.value == 0", "value": "alphabetic"}, "value": "middle"}, "title": "Dq", "titlePadding": 2, "domainColor": "#888"}},
    "detail": {"field": "s", "type": "nominal"}}},
  {"mark": {"type": "point", "filled": false, "color": "black", "strokeWidth": 1, "size": 70, "opacity": 1},
   "encoding": {
    "x": {"field": "q", "type": "quantitative", "axis": {"orient": "top", "values": [-15,-10,-5,0,5,10,15], "tickSize": -5, "labels": false, "title": null, "domainColor": "black"}},
    "y": {"field": "d", "type": "quantitative", "axis": {"orient": "right", "values": [0,0.2,0.4,0.6,0.8,1,1.2,1.4,1.6,1.8,2], "tickSize": -5, "labels": false, "title": null, "domainColor": "#888"}},
    "shape": {"field": "s", "type": "nominal", "scale": {"domain": [0,1,2,3], "range": ["M0,-1L0,1M-1,0L1,0M-0.7,-0.7L0.7,0.7M-0.7,0.7L0.7,-0.7", "circle", "diamond", "triangle-left"]}, "legend": null}}},
  {"transform": [{"filter": "datum.q > 100"}],
   "mark": {"type": "point", "filled": false, "color": "black", "strokeWidth": 1},
   "encoding": {
    "shape": {"field": "s", "type": "nominal", "scale": {"domain": [0,1,2,3], "range": ["M-2.5,0L2.5,0M0,-1L0,1M-0.75,-0.75L0.75,0.75M-0.75,0.75L0.75,-0.75", "M-2.5,0L2.5,0M-1,0A1,1,0,1,0,1,0A1,1,0,1,0,-1,0", "M-2.5,0L2.5,0M-1,0L0,-1.1L1,0L0,1.1Z", "M-2.5,0L2.5,0M-1,0L0.9,-1L0.9,1Z"]},
     "legend": {"title": null, "orient": "none", "legendX": 426, "legendY": 35, "labelExpr": "'Order' + datum.label"}}}},
  {"data": {"values": [{"q": -13.05, "d": 0.31, "t": "Mycoplasma genitalium, K=5"}]},
   "mark": {"type": "text", "align": "left", "baseline": "middle", "fontSize": 17, "color": "black"},
   "encoding": {"x": {"field": "q", "type": "quantitative", "axis": null}, "y": {"field": "d", "type": "quantitative", "axis": null}, "text": {"field": "t"}}}
 ]
}
]
}
